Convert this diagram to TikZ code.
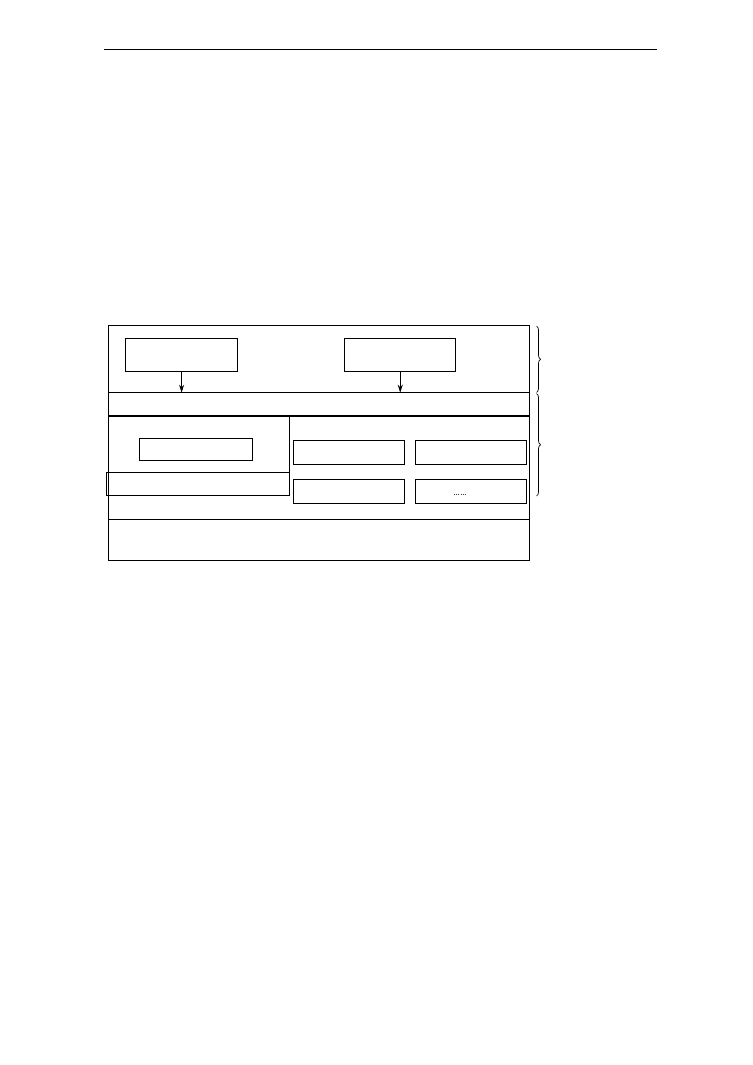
\documentclass[tikz,border=0pt]{standalone}
\usetikzlibrary{arrows.meta,decorations.pathreplacing}
\begin{document}
\begin{tikzpicture}[x=1pt,y=-1pt,
  frame/.style={draw=black,line width=1pt},
  inbox/.style={draw=black,line width=0.9pt},
  thickline/.style={draw=black,line width=1.4pt},
  arr/.style={draw=black,line width=0.9pt,-{Stealth[length=8pt,width=5pt]}},
  brc/.style={draw=black,line width=0.7pt,decorate,decoration={brace,amplitude=4pt}}]
\useasboundingbox (0,0) rectangle (752,1065);
% top rule
\draw[line width=1pt] (104,49.7) -- (657,49.7);
% outer frame
\draw[frame] (108.3,325.7) rectangle (529.3,560);
% top boxes
\node[inbox,minimum width=111.7pt,minimum height=33pt,inner sep=0pt,anchor=north west] (t1) at (125.3,338.3) {};
\node[inbox,minimum width=111pt,minimum height=33pt,inner sep=0pt,anchor=north west] (t2) at (344.3,338.3) {};
% horizontal layers
\draw[thickline] (108.3,392.7) coordinate (l1a) -- (529.3,392.7) coordinate (l1b);
\draw[thickline] (108.3,416) -- (529.3,416);
\draw[frame] (108.3,519) -- (529.3,519);
% arrows
\coordinate (a1) at (t1.south |- l1a);
\coordinate (a2) at (t2.south |- l1a);
\draw[arr] (t1.south) -- (a1);
\draw[arr] (t2.south) -- (a2);
% vertical divider and left part
\draw[frame] (289,416) -- (289,495);
\node[inbox,minimum width=112.4pt,minimum height=22.6pt,inner sep=0pt,anchor=north west] (lb) at (139.3,437.7) {};
\draw[frame] (106.7,472.3) rectangle (289,495);
% right boxes
\node[inbox,minimum width=111pt,minimum height=24pt,inner sep=0pt,anchor=north west] (r11) at (292.7,440.3) {};
\node[inbox,minimum width=111pt,minimum height=24pt,inner sep=0pt,anchor=north west] (r12) at (415,440.3) {};
\node[inbox,minimum width=111pt,minimum height=24pt,inner sep=0pt,anchor=north west] (r21) at (292.7,479) {};
\node[inbox,minimum width=111pt,minimum height=24pt,inner sep=0pt,anchor=north west] (r22) at (415,479) {};
\node[anchor=base,inner sep=0pt] (dots) at (460,495) {\ldots\ldots};
% braces
\draw[brc] (536.5,326) -- (536.5,392.5);
\draw[brc] (536.5,393.5) -- (536.5,496);
\end{tikzpicture}
\end{document}
